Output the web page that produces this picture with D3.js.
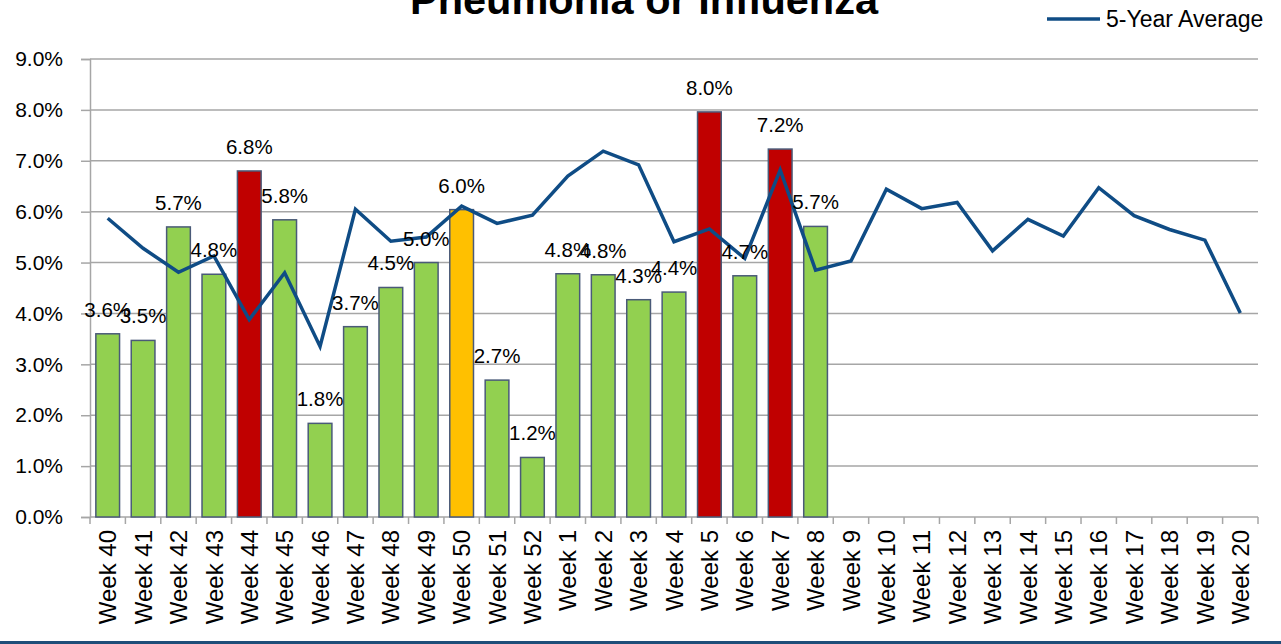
<!DOCTYPE html>
<html>
<head>
<meta charset="utf-8">
<script src="https://cdn.jsdelivr.net/npm/d3@7"></script>
<style>
  body { margin: 0; background: #fff; }
  text { font-family: "Liberation Sans", Arial, sans-serif; fill: #000; }
</style>
</head>
<body>
<script>
// week labels along the bottom
var weeks = ["Week 40", "Week 41", "Week 42", "Week 43", "Week 44", "Week 45", "Week 46",
  "Week 47", "Week 48", "Week 49", "Week 50", "Week 51", "Week 52", "Week 1", "Week 2",
  "Week 3", "Week 4", "Week 5", "Week 6", "Week 7", "Week 8", "Week 9", "Week 10",
  "Week 11", "Week 12", "Week 13", "Week 14", "Week 15", "Week 16", "Week 17", "Week 18",
  "Week 19", "Week 20"];

// percent of deaths, current season (bars)
var rate = [3.60, 3.47, 5.70, 4.77, 6.80, 5.84, 1.84, 3.74, 4.51, 5.00, 6.04, 2.69, 1.17,
  4.78, 4.76, 4.27, 4.42, 7.96, 4.74, 7.23, 5.71];

// bar colour group
var level = ["ok", "ok", "ok", "ok", "high", "ok", "ok", "ok", "ok", "ok", "warn", "ok", "ok",
  "ok", "ok", "ok", "ok", "high", "ok", "high", "ok"];

// 5-year average (line)
var avg5 = [5.87, 5.28, 4.81, 5.13, 3.88, 4.80, 3.35, 6.05, 5.42, 5.50, 6.11, 5.77, 5.93,
  6.70, 7.19, 6.92, 5.41, 5.66, 5.08, 6.82, 4.85, 5.03, 6.44, 6.06, 6.18, 5.23, 5.85,
  5.52, 6.47, 5.92, 5.65, 5.44, 4.01];

var yTicks = [0, 1, 2, 3, 4, 5, 6, 7, 8, 9];

var colors = {ok: "#92D050", high: "#C00000", warn: "#FFC000"};

var W = 1281, H = 644;
var margin = {top: 59, right: 23, bottom: 127, left: 90},
    width = W - margin.left - margin.right,
    height = H - margin.top - margin.bottom;

var svg = d3.select("body").append("svg")
    .attr("width", W)
    .attr("height", H);

var g = svg.append("g")
    .attr("transform", "translate(" + margin.left + "," + margin.top + ")");

var x = d3.scaleBand().domain(weeks).range([0, width]).paddingInner(0.33).paddingOuter(0.165);
var xc = d3.scaleBand().domain(weeks).range([0, width]);
var y = d3.scaleLinear().domain([0, 9]).range([height, 0]);

// gridlines
g.append("g")
  .selectAll("line")
  .data(yTicks.slice(1))
  .enter().append("line")
    .attr("x1", 0).attr("x2", width)
    .attr("y1", function(d) { return y(d); })
    .attr("y2", function(d) { return y(d); })
    .attr("stroke", "#a6a6a6")
    .attr("stroke-width", 1.5);

// y axis
var yAxis = g.append("g")
    .call(d3.axisLeft(y).tickValues(yTicks).tickSize(9).tickFormat(function(d) { return d.toFixed(1) + "%"; }));
yAxis.select(".domain").attr("stroke", "#a6a6a6").attr("stroke-width", 1.5);
yAxis.selectAll(".tick line").attr("stroke", "#a6a6a6").attr("stroke-width", 1.5);
yAxis.selectAll(".tick text")
    .attr("x", -27)
    .style("font-size", "21px")
    .style("font-family", "Liberation Sans, Arial, sans-serif")
    .attr("fill", "#000");

// x axis with ticks between categories
var xAxis = g.append("g").attr("transform", "translate(0," + height + ")");
xAxis.append("line")
    .attr("x1", 0).attr("x2", width)
    .attr("stroke", "#a6a6a6").attr("stroke-width", 1.5);
xAxis.selectAll(".sep")
  .data(d3.range(weeks.length + 1))
  .enter().append("line")
    .attr("x1", function(i) { return i * xc.step(); })
    .attr("x2", function(i) { return i * xc.step(); })
    .attr("y1", 0).attr("y2", 7)
    .attr("stroke", "#a6a6a6").attr("stroke-width", 1.5);
xAxis.selectAll(".lbl")
  .data(weeks)
  .enter().append("text")
    .attr("transform", function(d) {
      return "translate(" + (xc(d) + xc.bandwidth() / 2) + ",13) rotate(-90)";
    })
    .attr("dy", "0.36em")
    .attr("text-anchor", "end")
    .style("font-size", "24px")
    .text(function(d) { return d; });

// bars
g.selectAll(".bar")
  .data(rate)
  .enter().append("rect")
    .attr("x", function(d, i) { return x(weeks[i]); })
    .attr("y", function(d) { return y(d); })
    .attr("width", x.bandwidth())
    .attr("height", function(d) { return height - y(d); })
    .attr("fill", function(d, i) { return colors[level[i]]; })
    .attr("stroke", "#4a5a78")
    .attr("stroke-width", 1.5);

// line
var line = d3.line()
    .x(function(d, i) { return xc(weeks[i]) + xc.bandwidth() / 2; })
    .y(function(d) { return y(d); });

g.append("path")
    .datum(avg5)
    .attr("fill", "none")
    .attr("stroke", "#0f4c85")
    .attr("stroke-width", 3.5)
    .attr("stroke-linejoin", "miter")
    .attr("d", line);

// data labels
g.selectAll(".val")
  .data(rate)
  .enter().append("text")
    .attr("x", function(d, i) { return xc(weeks[i]) + xc.bandwidth() / 2; })
    .attr("y", function(d) { return y(d) - 17; })
    .attr("text-anchor", "middle")
    .style("font-size", "20.5px")
    .text(function(d) { return d.toFixed(1) + "%"; });

// title (partly cut off at the top)
svg.append("text")
    .attr("x", 644)
    .attr("y", 14)
    .attr("text-anchor", "middle")
    .style("font-size", "41.5px")
    .style("font-weight", "bold")
    .text("Pneumonia or Influenza");

// legend
svg.append("line")
    .attr("x1", 1047).attr("x2", 1100)
    .attr("y1", 19).attr("y2", 19)
    .attr("stroke", "#0f4c85")
    .attr("stroke-width", 3.5);
svg.append("text")
    .attr("x", 1106)
    .attr("y", 27)
    .style("font-size", "23px")
    .text("5-Year Average");

// bottom rule
svg.append("rect")
    .attr("x", 0).attr("y", 641)
    .attr("width", W).attr("height", 3)
    .attr("fill", "#1f4e79");
</script>
</body>
</html>
